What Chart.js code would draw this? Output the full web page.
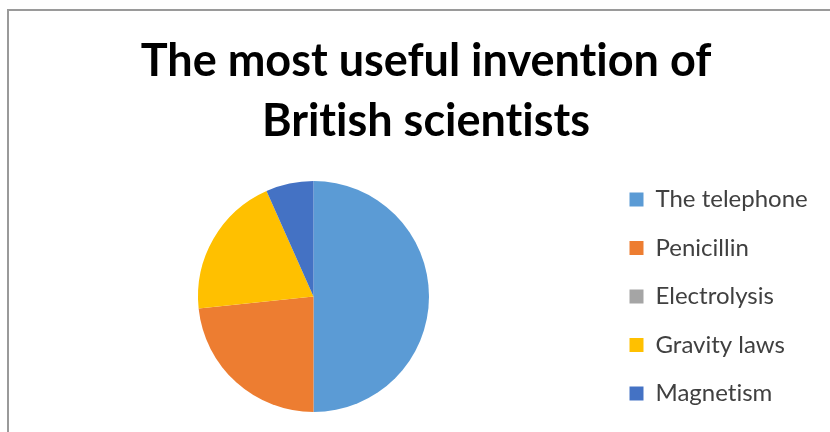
<!DOCTYPE html>
<html>
<head>
<meta charset="utf-8">
<script src="https://cdn.jsdelivr.net/npm/chart.js@4"></script>
<style>
  html, body { margin: 0; padding: 0; background: #fff; }
  #frame { position: absolute; left: 7px; top: 9px; width: 840px; height: 440px; border-top: 2px solid #9a9a9a; border-left: 2px solid #9a9a9a; }
  #wrap { position: absolute; left: 0; top: 0; width: 830px; height: 432px; }
</style>
</head>
<body>
<div id="frame"></div>
<div id="wrap"><canvas id="pieChart"></canvas></div>
<script>
const titleLines = ['The most useful invention of', 'British scientists'];
const inventions = ['The telephone', 'Penicillin', 'Electrolysis', 'Gravity laws', 'Magnetism'];
const votes = [15, 7, 0, 6, 2];
const sliceColors = ['#5B9BD5', '#ED7D31', '#A5A5A5', '#FFC000', '#4472C4'];

const LEGEND_WIDTH = 225;

// legend box width is pinned so the pie and the title sit where they should
const fixedLegendWidth = {
    id: 'fixedLegendWidth',
    beforeLayout(chart) {
        const lg = chart.legend;
        if (!lg || lg._pinned) return;
        const fit = lg.fit;
        lg.fit = function () {
            fit.call(this);
            this.width = LEGEND_WIDTH;
        };
        lg._pinned = true;
    },
    beforeDraw(chart) {
        // no ligatures, closer to the original font
        chart.ctx.textRendering = 'optimizeSpeed';
    }
};

const ctx = document.getElementById('pieChart').getContext('2d');
new Chart(ctx, {
    type: 'pie',
    data: {
        labels: inventions,
        datasets: [{
            data: votes,
            backgroundColor: sliceColors,
            borderWidth: 0,
            radius: 115.5
        }]
    },
    options: {
        responsive: true,
        maintainAspectRatio: false,
        animation: false,
        layout: { padding: { left: 22, right: 0, top: 0, bottom: 1 } },
        plugins: {
            title: {
                display: true,
                text: titleLines,
                color: '#000',
                font: { family: 'Lato', size: 45, weight: 'bold', lineHeight: '60px' },
                padding: { top: 31, bottom: 11 }
            },
            legend: {
                position: 'right',
                fullSize: false,
                labels: {
                    color: '#404040',
                    font: { family: 'Lato', size: 24 },
                    boxWidth: 14,
                    boxHeight: 14,
                    padding: 24.5
                }
            },
            tooltip: { enabled: false }
        }
    },
    plugins: [fixedLegendWidth]
});
</script>
</body>
</html>
